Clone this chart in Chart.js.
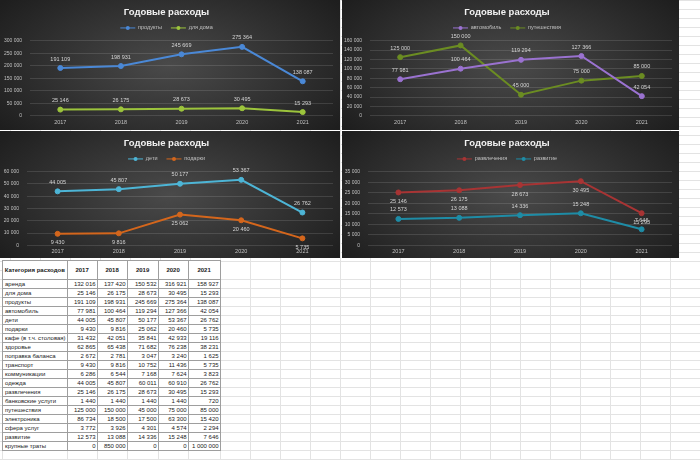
<!DOCTYPE html>
<html lang="ru">
<head>
<meta charset="utf-8">
<title>Годовые расходы</title>
<script src="https://cdn.jsdelivr.net/npm/chart.js@4.4.1/dist/chart.umd.min.js"></script>
<style>
    html, body { margin: 0; padding: 0; }
    body {
        width: 700px; height: 460px; position: relative; overflow: hidden;
        background: #fff; font-family: "Liberation Sans", Arial, sans-serif;
    }
    #sheet {
        position: absolute; left: 0; top: 0; width: 700px; height: 460px;
        background-image: linear-gradient(to right, #e3e3e3 1px, transparent 1px),
                          linear-gradient(to bottom, #e3e3e3 1px, transparent 1px);
        background-size: 30px 9px;
        background-position: 10px 0, 0 0;
    }
    #headStrip {
        position: absolute; left: 221px; top: 262px; width: 479px; height: 17px;
        background-color: #fff;
        background-image: linear-gradient(to right, #e3e3e3 1px, transparent 1px);
        background-size: 30px 17px;
        background-position: 29px 0;
    }
    .panel { position: absolute; }
    .panel canvas { display: block; }
    #costs {
        position: absolute; left: 2px; top: 260px;
        border-collapse: collapse; table-layout: fixed;
        font-size: 6px; color: #1a1a1a; background: #fff;
    }
    #costs th, #costs td {
        border: 1px solid #9e9e9e; padding: 0 1px; white-space: nowrap; overflow: hidden;
    }
    #costs th { height: 18px; font-weight: bold; text-align: center; }
    #costs td { height: 8px; line-height: 8px; text-align: right; }
    #costs td.name { text-align: left; padding-left: 2px; }
    #costs tr.blank td { border-color: #e3e3e3; border-bottom: none; }
</style>
</head>
<body>
<div id="sheet"></div>
<div id="headStrip"></div>

<div class="panel" style="left:0;top:0"><canvas id="chartFood" width="340" height="130"></canvas></div>
<div class="panel" style="left:342px;top:0"><canvas id="chartCar" width="337" height="130"></canvas></div>
<div class="panel" style="left:0;top:131px"><canvas id="chartKids" width="340" height="127"></canvas></div>
<div class="panel" style="left:342px;top:131px"><canvas id="chartFun" width="337" height="127"></canvas></div>

<table id="costs"></table>

<script>
const years = ["2017", "2018", "2019", "2020", "2021"];

const categories = [
    "аренда", "для дома", "продукты", "автомобиль", "дети", "подарки",
    "кафе (в т.ч. столовая)", "здоровье", "поправка баланса", "транспорт",
    "коммуникации", "одежда", "развлечения", "банковские услуги",
    "путешествия", "электроника", "сфера услуг", "развитие", "крупные траты"
];

const y2017 = [132016, 25146, 191109, 77981, 44005, 9430, 31432, 62865, 2672, 9430,
    6286, 44005, 25146, 1440, 125000, 86734, 3772, 12573, 0];
const y2018 = [137420, 26175, 198931, 100464, 45807, 9816, 42051, 65438, 2781, 9816,
    6544, 45807, 26175, 1440, 150000, 18500, 3926, 13088, 850000];
const y2019 = [150532, 28673, 245669, 119294, 50177, 25062, 35841, 71682, 3047, 10752,
    7168, 60011, 28673, 1440, 45000, 17500, 4301, 14336, 0];
const y2020 = [316921, 30495, 275364, 127366, 53367, 20460, 42933, 76238, 3240, 11436,
    7624, 60910, 30495, 1440, 75000, 63300, 4574, 15248, 0];
const y2021 = [158927, 15293, 138087, 42054, 26762, 5735, 19116, 38231, 1625, 5735,
    3823, 26762, 15293, 720, 85000, 15420, 2294, 7646, 1000000];

const yearColumns = [y2017, y2018, y2019, y2020, y2021];

function row(name) {
    const i = categories.indexOf(name);
    return yearColumns.map(function (col) { return col[i]; });
}

function fmt(v) {
    return String(v).replace(/\B(?=(\d{3})+(?!\d))/g, " ");
}

// dark panel fill, lighter in the middle
const panelBackground = {
    id: "panelBackground",
    beforeDraw(chart) {
        const ctx = chart.ctx;
        const w = chart.width, h = chart.height;
        ctx.save();
        ctx.translate(w / 2, h / 2);
        ctx.scale(1, (h * 0.8) / (w * 0.62));
        const g = ctx.createRadialGradient(0, 0, 0, 0, 0, w * 0.62);
        g.addColorStop(0, "#4a4a4a");
        g.addColorStop(1, "#1e1e1e");
        ctx.fillStyle = g;
        ctx.fillRect(-w, -w, w * 2, w * 2);
        ctx.restore();
    }
};

// values next to each point
const valueLabels = {
    id: "valueLabels",
    afterDatasetsDraw(chart) {
        const ctx = chart.ctx;
        ctx.save();
        ctx.font = '5.5px "Liberation Sans", Arial, sans-serif';
        ctx.fillStyle = "#d4d4d4";
        ctx.textAlign = "center";
        ctx.textBaseline = "middle";
        chart.data.datasets.forEach(function (ds, i) {
            chart.getDatasetMeta(i).data.forEach(function (pt, j) {
                const dy = ds.labelBelow ? 9 : -9;
                ctx.fillText(fmt(ds.data[j]), pt.x, pt.y + dy);
            });
        });
        ctx.restore();
    }
};

// marker dot in the middle of each legend line
const legendDots = {
    id: "legendDots",
    afterDraw(chart) {
        const boxes = chart.legend && chart.legend.legendHitBoxes;
        if (!boxes) return;
        const ctx = chart.ctx;
        ctx.save();
        boxes.forEach(function (b, i) {
            const ds = chart.data.datasets[i];
            ctx.beginPath();
            ctx.arc(b.left + 7.5, b.top + b.height / 2, 2, 0, Math.PI * 2);
            ctx.fillStyle = ds.borderColor;
            ctx.fill();
        });
        ctx.restore();
    }
};

function buildChart(id, yMax, yStep, axisWidth, padBottom, sets) {
    const canvas = document.getElementById(id);
    if (!canvas || !window.Chart) return null;
    return new Chart(canvas.getContext("2d"), {
        type: "line",
        data: {
            labels: years,
            datasets: sets.map(function (s) {
                return {
                    label: s.name,
                    data: row(s.name),
                    borderColor: s.color,
                    backgroundColor: s.color,
                    borderWidth: 2,
                    tension: 0,
                    pointRadius: 2.5,
                    pointBorderWidth: 1,
                    pointBackgroundColor: s.color,
                    pointBorderColor: s.color,
                    labelBelow: s.below
                };
            })
        },
        options: {
            responsive: false,
            animation: false,
            devicePixelRatio: 1,
            layout: { padding: { top: 0, right: 7, bottom: padBottom, left: 0 } },
            plugins: {
                title: {
                    display: true,
                    text: "Годовые расходы",
                    color: "#f2f2f2",
                    font: { size: 9.5, weight: "bold" },
                    padding: { top: 6.3, bottom: -1.5 }
                },
                legend: {
                    position: "top",
                    labels: {
                        color: "#c0c0c0",
                        font: { size: 5.5 },
                        usePointStyle: true,
                        pointStyle: "line",
                        pointStyleWidth: 15,
                        padding: 9
                    }
                },
                tooltip: { enabled: false }
            },
            scales: {
                x: {
                    offset: true,
                    grid: { display: false, drawTicks: false },
                    border: { display: false },
                    ticks: { color: "#c0c0c0", font: { size: 5.5 }, padding: 3 }
                },
                y: {
                    min: 0,
                    max: yMax,
                    grid: { color: "rgba(255,255,255,0.12)", drawTicks: false },
                    border: { display: false },
                    ticks: {
                        stepSize: yStep,
                        autoSkip: false,
                        color: "#c0c0c0",
                        font: { size: 5 },
                        padding: 8,
                        callback: function (v) { return fmt(v); }
                    },
                    afterFit: function (scale) { scale.width = axisWidth; }
                }
            }
        },
        plugins: [panelBackground, valueLabels, legendDots]
    });
}

document.addEventListener("DOMContentLoaded", function () {
    Chart.defaults.font.family = '"Liberation Sans", Arial, sans-serif';

    buildChart("chartFood", 300000, 50000, 30, 1.5, [
        { name: "продукты", color: "#4a88d6", below: false },
        { name: "для дома", color: "#9cc43c", below: false }
    ]);
    buildChart("chartCar", 160000, 20000, 28, 1.5, [
        { name: "автомобиль", color: "#9a72d0", below: false },
        { name: "путешествия", color: "#6b8c22", below: false }
    ]);
    buildChart("chartKids", 60000, 10000, 27, 0, [
        { name: "дети", color: "#4db5d6", below: false },
        { name: "подарки", color: "#d4661c", below: true }
    ]);
    buildChart("chartFun", 35000, 5000, 26, 0, [
        { name: "развлечения", color: "#a83434", below: true },
        { name: "развитие", color: "#1e8ca6", below: false }
    ]);

    // expense table
    const colWidths = [62, 30, 30, 31, 30, 32];
    let html = "<colgroup>" + colWidths.map(function (w) {
        return '<col style="width:' + w + 'px">';
    }).join("") + "</colgroup>";
    html += "<tr><th>Категория расходов</th>" + years.map(function (y) {
        return "<th>" + y + "</th>";
    }).join("") + "</tr>";
    categories.forEach(function (name, i) {
        html += '<tr><td class="name">' + name + "</td>" + yearColumns.map(function (col) {
            return "<td>" + fmt(col[i]) + "</td>";
        }).join("") + "</tr>";
    });
    html += '<tr class="blank">' + colWidths.map(function () { return "<td></td>"; }).join("") + "</tr>";
    document.getElementById("costs").innerHTML = html;
});
</script>
</body>
</html>
